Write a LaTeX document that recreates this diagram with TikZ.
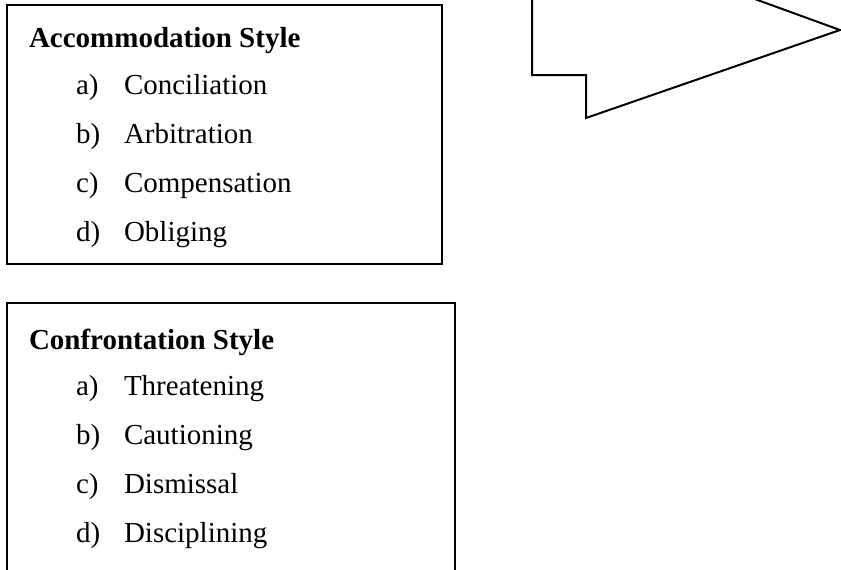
\documentclass[tikz,border=0pt]{standalone}
\usepackage{fontspec}
\setmainfont{Liberation Serif}
\usepackage{tikz}

\begin{document}
\begin{tikzpicture}[x=0.5pt, y=-0.5pt, line width=1pt,
    txt/.style={anchor=base west, inner sep=0pt, font=\fontsize{14.5}{17}\selectfont},
    head/.style={txt, font=\fontsize{14.5}{17}\selectfont\bfseries}]

    % Frame
    \useasboundingbox (0,0) rectangle (841,569);
    \clip (0,0) rectangle (841,569);

    % Coordinates
    \coordinate (top) at (532,-80);
    \coordinate (knee) at (532,75);
    \coordinate (step) at (586,75);
    \coordinate (foot) at (586,118);
    \coordinate (tip) at (840,30);
    \coordinate (back) at (620,-50);

    % Arrow
    \draw [line join=miter] (top) -- (knee) -- (step) -- (foot) -- (tip) -- (back);

    % Accommodation box
    \draw (7,5) rectangle (442,264);
    \node [head] (acc) at (28,47) {Accommodation Style};
    \node [txt] (acca) at (75,94) {a)};
    \node [txt] (accat) at (123,94) {Conciliation};
    \node [txt] (accb) at (75,143) {b)};
    \node [txt] (accbt) at (123,143) {Arbitration};
    \node [txt] (accc) at (75,192) {c)};
    \node [txt] (accct) at (123,192) {Compensation};
    \node [txt] (accd) at (75,241) {d)};
    \node [txt] (accdt) at (123,241) {Obliging};

    % Confrontation box
    \draw (7,303) rectangle (455,620);
    \node [head] (con) at (28,349) {Confrontation Style};
    \node [txt] (cona) at (75,395) {a)};
    \node [txt] (conat) at (123,395) {Threatening};
    \node [txt] (conb) at (75,444) {b)};
    \node [txt] (conbt) at (123,444) {Cautioning};
    \node [txt] (conc) at (75,493) {c)};
    \node [txt] (conct) at (123,493) {Dismissal};
    \node [txt] (cond) at (75,542) {d)};
    \node [txt] (condt) at (123,542) {Disciplining};

\end{tikzpicture}
\end{document}
